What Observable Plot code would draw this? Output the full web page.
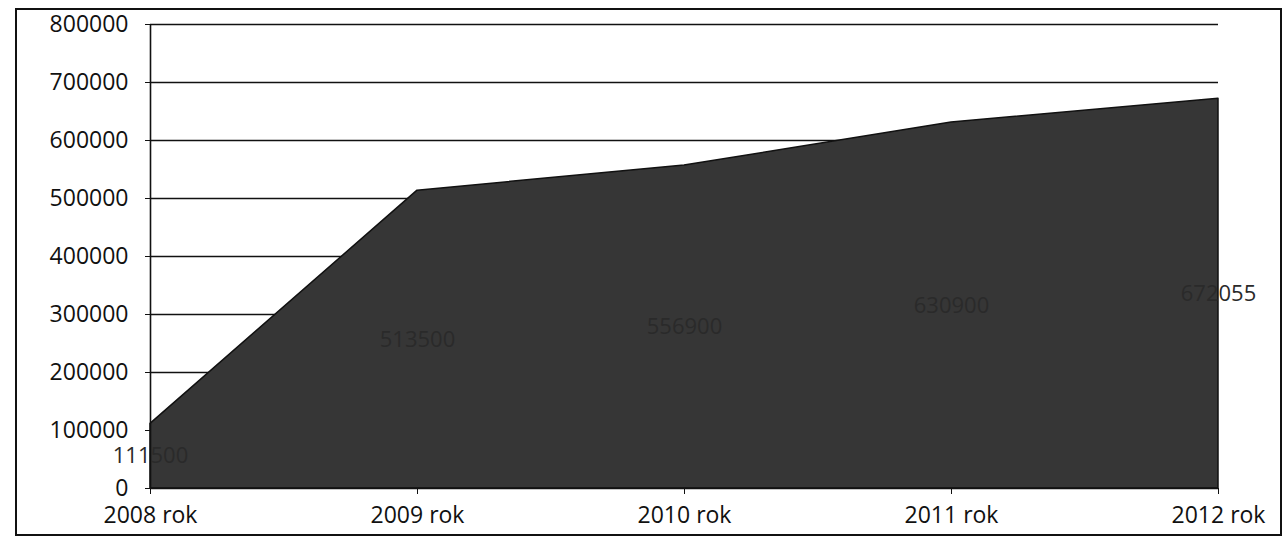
<!DOCTYPE html>
<html><head><meta charset="utf-8">
<script src="https://cdn.jsdelivr.net/npm/d3@7"></script>
<script src="https://cdn.jsdelivr.net/npm/@observablehq/plot@0.6"></script>
<style>
body{margin:0;background:#fff;}
#wrap{position:relative;width:1285px;height:543px;}
#wrap svg{position:absolute;left:0;top:0;}
#border{position:absolute;left:15px;top:8px;width:1263px;height:524px;border:2px solid #111;pointer-events:none;}
</style></head><body>
<div id="wrap"><div id="border"></div></div>
<script>
const yearLabels = ["2008 rok", "2009 rok", "2010 rok", "2011 rok", "2012 rok"];
const values = [111500, 513500, 556900, 630900, 672055];
const yTicks = [0, 100000, 200000, 300000, 400000, 500000, 600000, 700000, 800000];

const data = yearLabels.map((label, i) => ({label, value: values[i]}));

const chart = Plot.plot({
  width: 1285,
  height: 543,
  marginLeft: 150,
  marginRight: 67,
  marginTop: 24,
  marginBottom: 55,
  style: {fontFamily: "'Open Sans', sans-serif", fontSize: "23px", color: "#111", background: "transparent"},
  x: {type: "point", domain: yearLabels, padding: 0, label: null},
  y: {domain: [0, 800000], label: null},
  marks: [
    Plot.ruleY(yTicks.filter(d => d > 0), {stroke: "#111", strokeWidth: 1.6}),
    Plot.areaY(data, {x: "label", y: "value", fill: "#363636", stroke: "#111", strokeWidth: 1.5}),
    Plot.text(data, {x: "label", y: d => d.value / 2, text: d => String(d.value), fill: "#2a2a2a", fontSize: 22}),
    Plot.ruleX([yearLabels[0]], {y1: 0, y2: 800000, stroke: "#111", strokeWidth: 1.6}),
    Plot.ruleY([0], {stroke: "#111", strokeWidth: 1.6}),
    Plot.axisY({ticks: yTicks, tickFormat: d => String(d), tickSize: 5, tickPadding: 17, fontSize: 23, label: null}),
    Plot.axisX({tickSize: 6, tickPadding: 12, fontSize: 23, label: null})
  ]
});
document.getElementById("wrap").prepend(chart);
</script>
</body></html>
